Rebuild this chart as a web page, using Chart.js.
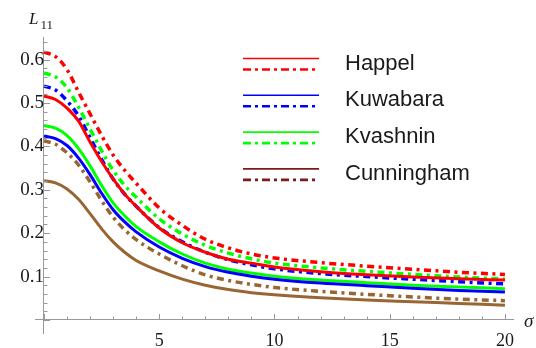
<!DOCTYPE html>
<html>
<head>
<meta charset="utf-8">
<script src="https://cdn.jsdelivr.net/npm/chart.js@4.4.1/dist/chart.umd.min.js"></script>
<style>
  body { margin: 0; background: #fff; }
  #wrap { position: relative; width: 536px; height: 348px; }
  #wrap canvas, #wrap svg { position: absolute; left: 0; top: 0; }
</style>
</head>
<body>
<div id="wrap">
  <canvas id="lChart" width="536" height="348"></canvas>
  <svg id="overlay" width="536" height="348"></svg>
</div>
<script>
// sigma values and L11 readings for each model (solid and dash-dot curves)
const sigma = [0, 0.5, 1, 1.5, 2, 2.5, 3, 3.5, 4, 5, 6, 7, 8, 9, 10, 12, 14, 16, 18, 20];
const happelSolid     = [0.516, 0.508, 0.488, 0.458, 0.410, 0.365, 0.325, 0.290, 0.262, 0.212, 0.178, 0.156, 0.140, 0.131, 0.122, 0.111, 0.104, 0.099, 0.095, 0.092];
const happelDash      = [0.617, 0.607, 0.577, 0.525, 0.475, 0.425, 0.380, 0.345, 0.315, 0.258, 0.218, 0.186, 0.166, 0.152, 0.143, 0.132, 0.124, 0.117, 0.110, 0.105];
const kuwabaraSolid   = [0.424, 0.418, 0.402, 0.373, 0.335, 0.292, 0.254, 0.226, 0.203, 0.168, 0.142, 0.123, 0.110, 0.101, 0.094, 0.085, 0.079, 0.073, 0.068, 0.0645];
const kuwabaraDash    = [0.539, 0.530, 0.505, 0.470, 0.420, 0.370, 0.325, 0.290, 0.262, 0.213, 0.180, 0.156, 0.139, 0.127, 0.118, 0.107, 0.100, 0.094, 0.088, 0.083];
const kvashninSolid   = [0.448, 0.442, 0.425, 0.395, 0.355, 0.310, 0.270, 0.240, 0.215, 0.180, 0.152, 0.131, 0.117, 0.108, 0.101, 0.092, 0.086, 0.080, 0.076, 0.072];
const kvashninDash    = [0.569, 0.560, 0.535, 0.490, 0.440, 0.390, 0.345, 0.310, 0.283, 0.233, 0.198, 0.172, 0.154, 0.141, 0.131, 0.120, 0.112, 0.105, 0.099, 0.094];
const cunninghamSolid = [0.321, 0.316, 0.302, 0.278, 0.245, 0.210, 0.180, 0.156, 0.137, 0.113, 0.094, 0.080, 0.070, 0.063, 0.058, 0.051, 0.046, 0.042, 0.038, 0.034];
const cunninghamDash  = [0.413, 0.405, 0.385, 0.357, 0.318, 0.275, 0.237, 0.208, 0.185, 0.152, 0.125, 0.104, 0.091, 0.082, 0.075, 0.066, 0.059, 0.053, 0.048, 0.0445];

const models = ['Happel', 'Kuwabara', 'Kvashnin', 'Cunningham'];
const xTicks = [5, 10, 15, 20];
const yTicks = [0.1, 0.2, 0.3, 0.4, 0.5, 0.6];

const colors = ['#ff0000', '#0000ff', '#00ff00', '#996633'];
const legendColors = ['#ff0000', '#0000ff', '#00ff00', '#801a1a'];
const dotDash = [7, 4.5, 3, 4.5];
const axisColor = '#999999';
const serif = '"Liberation Serif", "DejaVu Serif", serif';

function pts(arr) {
  return sigma.map((s, i) => ({x: s, y: arr[i]}));
}

function line(arr, color, dashed) {
  return {
    data: pts(arr),
    borderColor: color,
    borderWidth: dashed ? 3.5 : 3,
    borderDash: dashed ? dotDash : [],
    borderCapStyle: 'butt',
    pointRadius: 0,
    fill: false,
    cubicInterpolationMode: 'monotone'
  };
}

// Mathematica style ticks: pointing into the plot, with minor ticks
const axisTicks = {
  id: 'axisTicks',
  afterDraw(chart) {
    const {ctx, scales: {x, y}} = chart;
    const x0 = x.getPixelForValue(0);
    const y0 = y.getPixelForValue(0);
    ctx.save();
    ctx.strokeStyle = axisColor;
    ctx.lineWidth = 1;
    ctx.beginPath();
    for (let s = 0; s <= 20; s++) {
      const px = Math.round(x.getPixelForValue(s)) + 0.5;
      const len = s % 5 === 0 ? 6 : 3.5;
      ctx.moveTo(px, y0);
      ctx.lineTo(px, y0 - len);
    }
    for (let k = 0; k <= 32; k++) {
      const py = Math.round(y.getPixelForValue(k * 0.02)) + 0.5;
      const len = k % 5 === 0 ? 6 : 3.5;
      ctx.moveTo(x0, py);
      ctx.lineTo(x0 + len, py);
    }
    ctx.stroke();
    ctx.restore();
  }
};

new Chart(document.getElementById('lChart'), {
  type: 'line',
  data: {
    datasets: [
      line(happelSolid, colors[0], false),
      line(happelDash, colors[0], true),
      line(kuwabaraSolid, colors[1], false),
      line(kuwabaraDash, colors[1], true),
      line(kvashninSolid, colors[2], false),
      line(kvashninDash, colors[2], true),
      line(cunninghamSolid, colors[3], false),
      line(cunninghamDash, colors[3], true)
    ]
  },
  options: {
    responsive: false,
    animation: false,
    layout: {padding: {left: 35, right: 23, top: 37, bottom: 15}},
    plugins: {legend: {display: false}, tooltip: {enabled: false}},
    scales: {
      x: {
        type: 'linear',
        position: {y: 0},
        min: -0.39,
        max: 20.35,
        grid: {display: false, drawTicks: false},
        border: {display: true, color: axisColor, width: 1},
        afterBuildTicks: s => { s.ticks = xTicks.map(v => ({value: v})); },
        ticks: {
          padding: 10,
          color: '#1a1a1a',
          font: {family: serif, size: 18},
          maxRotation: 0,
          autoSkip: false,
          callback: v => String(v)
        }
      },
      y: {
        type: 'linear',
        position: {x: 0},
        min: -0.03,
        max: 0.652,
        grid: {display: false, drawTicks: false},
        border: {display: true, color: axisColor, width: 1},
        afterBuildTicks: s => { s.ticks = yTicks.map(v => ({value: v})); },
        ticks: {
          padding: 3,
          color: '#1a1a1a',
          font: {family: serif, size: 19},
          autoSkip: false,
          callback: v => v.toFixed(1)
        }
      }
    }
  },
  plugins: [axisTicks]
});

// axis labels and the two-line legend as svg text
const NS = 'http://www.w3.org/2000/svg';
const svg = document.getElementById('overlay');
function el(tag, attrs, text) {
  const e = document.createElementNS(NS, tag);
  for (const k in attrs) e.setAttribute(k, attrs[k]);
  if (text) e.textContent = text;
  svg.appendChild(e);
  return e;
}
el('text', {x: 29, y: 23.5, 'font-family': serif, 'font-style': 'italic', 'font-size': 17, fill: '#1a1a1a'}, 'L');
el('text', {x: 40.5, y: 28.5, 'font-family': serif, 'font-size': 13, fill: '#1a1a1a'}, '11');
el('text', {x: 524, y: 327, 'font-family': serif, 'font-style': 'italic', 'font-size': 19, fill: '#1a1a1a'}, 'σ');

models.forEach((m, i) => {
  const yl = 58.5 + 36.8 * i;
  el('line', {x1: 243, x2: 319, y1: yl, y2: yl, stroke: legendColors[i], 'stroke-width': 1.6});
  el('line', {x1: 243, x2: 319, y1: yl + 11, y2: yl + 11, stroke: legendColors[i], 'stroke-width': 2.6, 'stroke-dasharray': '8 4 3 4'});
  el('text', {x: 345, y: yl + 11, 'font-family': '"Liberation Sans", Arial, sans-serif', 'font-size': 22, fill: '#1a1a1a'}, m);
});
</script>
</body>
</html>
